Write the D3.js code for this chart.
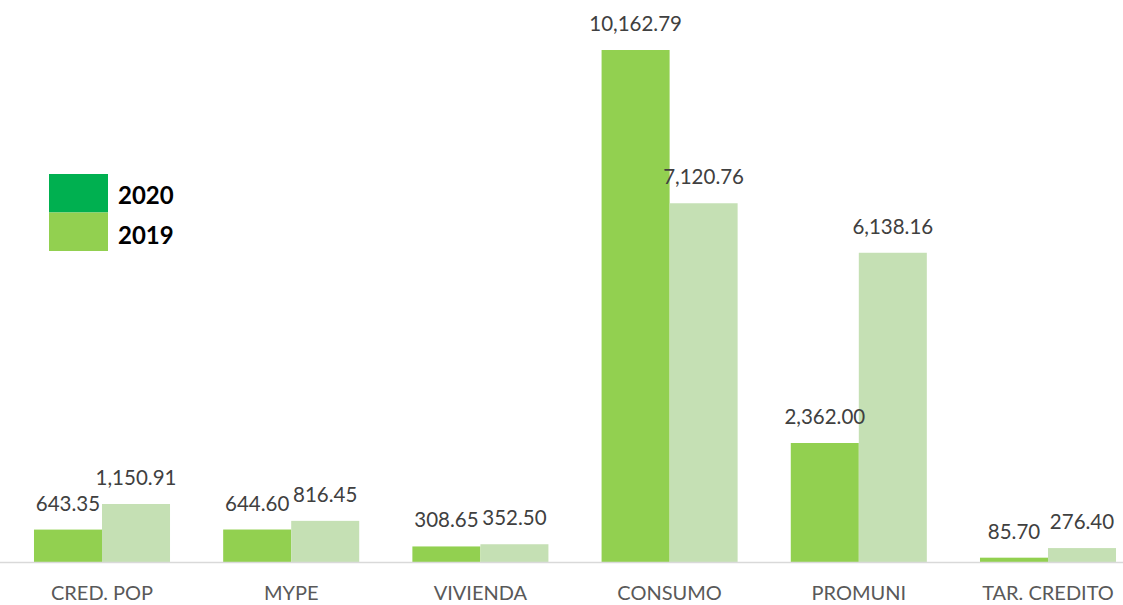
<!DOCTYPE html>
<html>
<head>
<meta charset="utf-8">
<script src="https://cdn.jsdelivr.net/npm/d3@7"></script>
<style>
  body { margin: 0; background: #fff; }
  svg { display: block; font-family: Lato, "Open Sans", sans-serif; }
</style>
</head>
<body>
<div id="chart"></div>
<script>
// Data
const categories = ["CRED. POP", "MYPE", "VIVIENDA", "CONSUMO", "PROMUNI", "TAR. CREDITO"];
const values2020 = [643.35, 644.60, 308.65, 10162.79, 2362.00, 85.70];
const values2019 = [1150.91, 816.45, 352.50, 7120.76, 6138.16, 276.40];
const seriesNames = ["2020", "2019"];

const width = 1123;
const height = 605;
const baseline = 562;
const plotTop = 50;

const barColors = { "2020": "#92d050", "2019": "#c5e0b4" };
const legendColors = { "2020": "#00b050", "2019": "#92d050" };

const data = categories.map((c, i) => ({
  category: c,
  values: [
    { key: "2020", value: values2020[i] },
    { key: "2019", value: values2019[i] },
  ],
}));

// Scales
const x = d3
  .scaleBand()
  .domain(categories)
  .range([7.4, 1142.6])
  .paddingInner(0.281)
  .paddingOuter(0.1405);

const xInner = d3
  .scaleBand()
  .domain(seriesNames)
  .range([0, x.bandwidth()]);

const y = d3
  .scaleLinear()
  .domain([0, d3.max([...values2020, ...values2019])])
  .range([baseline, plotTop]);

const fmt = d3.format(",.2f");

const svg = d3
  .create("svg")
  .attr("width", width)
  .attr("height", height)
  .attr("viewBox", [0, 0, width, height]);

// Bars
const groups = svg
  .append("g")
  .selectAll("g")
  .data(data)
  .join("g")
  .attr("transform", (d) => `translate(${x(d.category)},0)`);

groups
  .selectAll("rect")
  .data((d) => d.values)
  .join("rect")
  .attr("x", (d) => xInner(d.key))
  .attr("y", (d) => y(d.value))
  .attr("width", xInner.bandwidth())
  .attr("height", (d) => baseline - y(d.value))
  .attr("fill", (d) => barColors[d.key]);

// Value labels
groups
  .selectAll("text")
  .data((d) => d.values)
  .join("text")
  .attr("x", (d) => xInner(d.key) + xInner.bandwidth() / 2)
  .attr("y", (d) => y(d.value) - 19)
  .attr("text-anchor", "middle")
  .attr("font-size", 20.5)
  .attr("fill", "#404040")
  .text((d) => fmt(d.value));

// Horizontal axis
svg
  .append("g")
  .attr("transform", `translate(0,${baseline})`)
  .call(d3.axisBottom(x).tickSize(0).tickPadding(0))
  .call((g) => g.select(".domain").attr("d", `M0,0.5H${width}`).attr("stroke", "#d9d9d9").attr("stroke-width", 1.5))
  .call((g) =>
    g
      .selectAll(".tick text")
      .attr("y", 38)
      .attr("dy", 0)
      .attr("font-size", 20)
      .attr("font-family", "Lato, 'Open Sans', sans-serif")
      .attr("fill", "#595959")
  );

// Legend
const legend = svg.append("g").attr("transform", "translate(49,174)");
legend
  .selectAll("rect")
  .data(seriesNames)
  .join("rect")
  .attr("x", 0)
  .attr("y", (d, i) => i * 38.5)
  .attr("width", 59)
  .attr("height", 38.5)
  .attr("fill", (d) => legendColors[d]);
legend
  .selectAll("text")
  .data(seriesNames)
  .join("text")
  .attr("x", 69)
  .attr("y", (d, i) => 30 + i * 40)
  .attr("font-size", 24)
  .attr("font-weight", "bold")
  .attr("fill", "#000")
  .text((d) => d);

document.getElementById("chart").appendChild(svg.node());
</script>
</body>
</html>
